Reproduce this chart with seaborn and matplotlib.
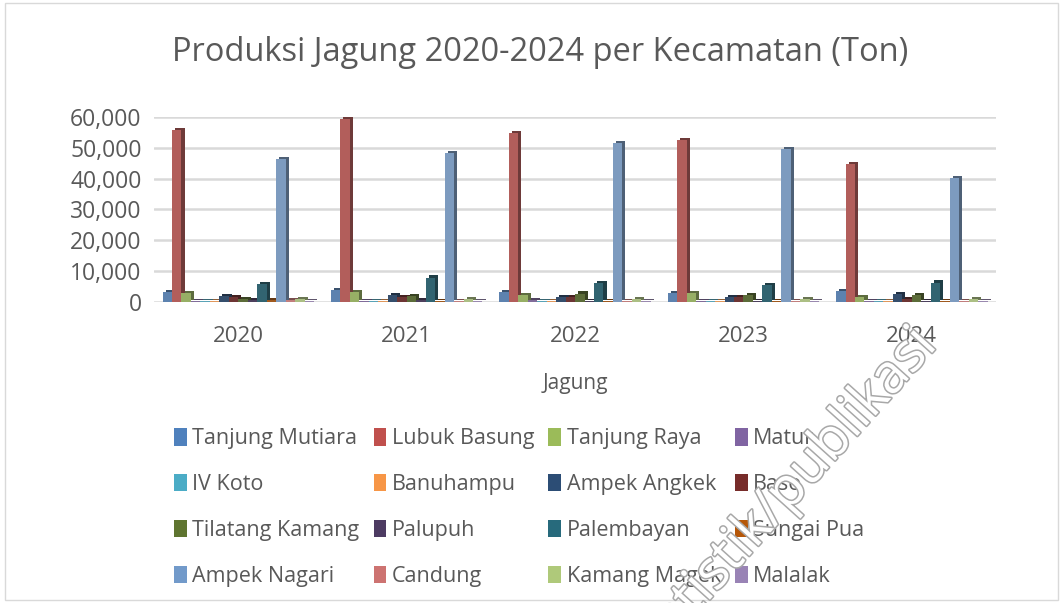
import matplotlib
matplotlib.use('Agg')
import matplotlib.pyplot as plt
import matplotlib.patheffects as pe
from matplotlib.patches import Patch
from matplotlib.ticker import StrMethodFormatter, MultipleLocator
import pandas as pd
import seaborn as sns

# Data (ton)
years = ['2020', '2021', '2022', '2023', '2024']
kecamatan = ['Tanjung Mutiara', 'Lubuk Basung', 'Tanjung Raya', 'Matur',
             'IV Koto', 'Banuhampu', 'Ampek Angkek', 'Baso',
             'Tilatang Kamang', 'Palupuh', 'Palembayan', 'Sungai Pua',
             'Ampek Nagari', 'Candung', 'Kamang Magek', 'Malalak']
tanjung_mutiara = [3300, 3900, 3300, 3000, 3600]
lubuk_basung = [55800, 59300, 54800, 52400, 44800]
tanjung_raya = [3000, 3300, 2300, 2800, 1700]
matur = [300, 300, 500, 400, 400]
iv_koto = [200, 200, 200, 200, 200]
banuhampu = [300, 400, 300, 300, 300]
ampek_angkek = [1900, 2200, 1700, 1700, 2500]
baso = [1500, 1500, 1500, 1700, 1000]
tilatang_kamang = [1000, 2000, 2700, 2200, 2200]
palupuh = [600, 500, 400, 400, 400]
palembayan = [5700, 7900, 6100, 5500, 6300]
sungai_pua = [500, 400, 400, 400, 400]
ampek_nagari = [46300, 48300, 51500, 49600, 40200]
candung = [500, 400, 300, 300, 300]
kamang_magek = [1000, 900, 900, 900, 900]
malalak = [400, 300, 300, 300, 300]

series = [tanjung_mutiara, lubuk_basung, tanjung_raya, matur, iv_koto, banuhampu,
          ampek_angkek, baso, tilatang_kamang, palupuh, palembayan, sungai_pua,
          ampek_nagari, candung, kamang_magek, malalak]
colors = ['#4F81BD', '#C0504D', '#9BBB59', '#8064A2', '#4BACC6', '#F79646',
          '#2C4D75', '#772C2A', '#5F7530', '#4D3B62', '#276A7C', '#B65708',
          '#729ACA', '#CD7371', '#AFC97A', '#9983B5']

rows = []
for name, vals in zip(kecamatan, series):
    for y, v in zip(years, vals):
        rows.append({'Tahun': y, 'Kecamatan': name, 'Produksi': v})
df = pd.DataFrame(rows)

sns.set_style('white')
plt.rcParams['font.family'] = ['Open Sans', 'DejaVu Sans']
text_color = '#595959'

fig = plt.figure(figsize=(10.63, 6.03), dpi=100)
ax = fig.add_axes([0.145, 0.4992, 0.792, 0.3068])

sns.barplot(data=df, x='Tahun', y='Produksi', hue='Kecamatan', hue_order=kecamatan,
            palette=colors, width=0.9, ax=ax, legend=False, zorder=3,
            edgecolor='none', linewidth=0)

# fake 3D depth on the bars (darker copy pushed up and to the right)
for bar in ax.patches:
    bar.set_path_effects([pe.SimplePatchShadow(offset=(2.2, 1.6), alpha=1, rho=0.62),
                          pe.Normal()])
    bar.set_clip_on(False)

ax.set_ylim(0, 60000)
ax.set_xlim(-0.5, 4.5)
ax.yaxis.set_major_locator(MultipleLocator(10000))
ax.yaxis.set_major_formatter(StrMethodFormatter('{x:,.0f}'))
ax.grid(axis='y', color='#d9d9d9', linewidth=1.8, zorder=0)
for s in ax.spines.values():
    s.set_visible(False)
ax.tick_params(axis='y', labelsize=16.5, colors=text_color, pad=9, length=0)
ax.tick_params(axis='x', labelsize=16, colors=text_color, pad=17, length=0)
ax.set_ylabel('')
ax.set_xlabel('Jagung', fontsize=15, color=text_color, labelpad=19)

fig.suptitle('Produksi Jagung 2020-2024 per Kecamatan (Ton)', fontsize=23.5,
             color=text_color, x=0.508, y=0.94)

# legend row-wise in 4 columns
handles = [Patch(facecolor=c, edgecolor='none') for c in colors]
order = [i + 4 * r for i in range(4) for r in range(4)]
ax.legend([handles[i] for i in order], [kecamatan[i] for i in order], ncol=4,
          loc='upper left', bbox_to_anchor=(0.011, -0.625), frameon=False,
          fontsize=15.5, labelcolor=text_color, handlelength=0.6, handleheight=0.85,
          handletextpad=0.25, columnspacing=0.65, labelspacing=1.15, borderpad=0)

# watermark
fig.text(0.882, 0.425, 'statistik/publikasi', fontsize=39, rotation=48,
         ha='right', va='baseline', rotation_mode='anchor', color='white',
         path_effects=[pe.withStroke(linewidth=2.2, foreground='#a8a8a8')], zorder=10)

# chart frame
fig.patches.append(plt.Rectangle((0.005, 0.005), 0.99, 0.99, transform=fig.transFigure,
                                 fill=False, edgecolor='#d9d9d9', linewidth=1))

fig.savefig('out.png', dpi=100)
